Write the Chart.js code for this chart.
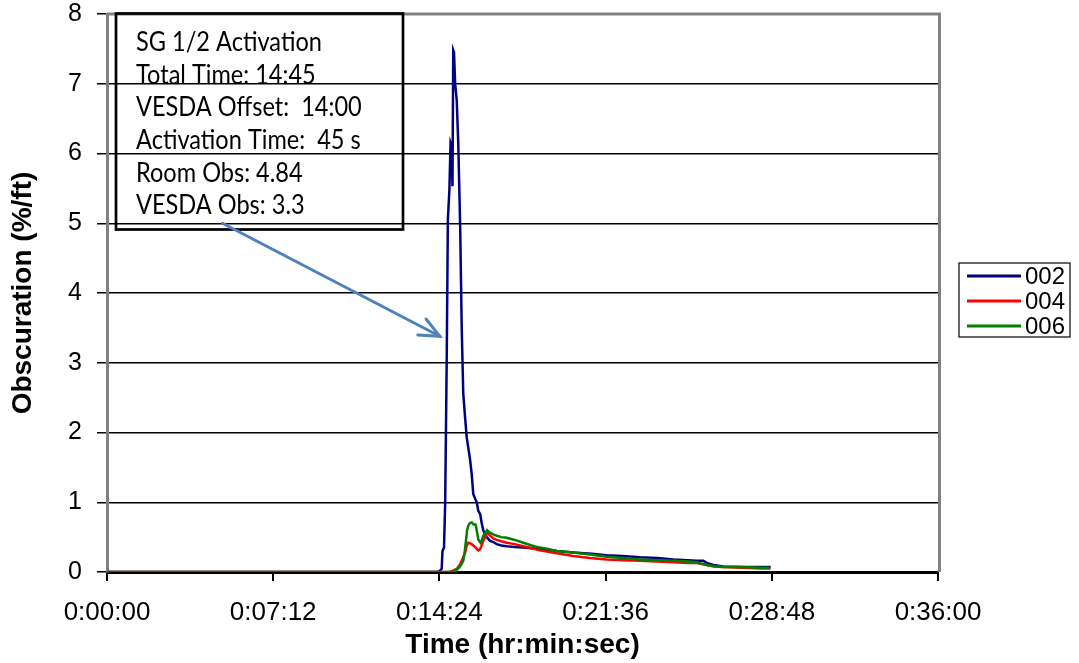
<!DOCTYPE html>
<html><head><meta charset="utf-8">
<script src="https://cdn.jsdelivr.net/npm/chart.js@4/dist/chart.umd.min.js"></script>
<style>html,body{margin:0;padding:0;background:#fff;}#wrap{width:1079px;height:663px;}</style>
</head><body><div id="wrap"><canvas id="c" width="1079" height="663"></canvas></div>
<script>
// ---- data (time in seconds, obscuration in %/ft) ----
const time002 = [0, 860, 866, 870, 872, 876, 879, 883, 886, 890, 893, 896, 898, 900, 902, 905, 909, 913, 918, 922, 926, 931, 935, 940, 944, 948, 952, 957, 961, 965, 970, 974, 978, 983, 987, 995, 1004, 1013, 1025, 1039, 1060, 1082, 1125, 1169, 1212, 1260, 1299, 1340, 1385, 1430, 1472, 1510, 1533, 1550, 1559, 1576, 1602, 1650, 1700, 1725];
const obs002  = [0, 0, 0.02, 0.05, 0.3, 0.35, 0.98, 3.04, 5.05, 5.48, 6.15, 6.1, 5.53, 7.48, 7.45, 7.0, 6.77, 6.15, 4.95, 3.51, 2.56, 2.2, 1.93, 1.75, 1.6, 1.4, 1.12, 1.05, 1.0, 0.88, 0.83, 0.7, 0.6, 0.54, 0.5, 0.45, 0.43, 0.4, 0.38, 0.37, 0.36, 0.35, 0.33, 0.3, 0.28, 0.26, 0.24, 0.23, 0.21, 0.2, 0.18, 0.17, 0.16, 0.16, 0.13, 0.10, 0.08, 0.07, 0.07, 0.07];

const time004 = [0, 890, 900, 910, 918, 925, 931, 935, 939, 944, 948, 952, 957, 961, 966, 970, 974, 978, 983, 988, 996, 1004, 1013, 1025, 1039, 1060, 1082, 1104, 1125, 1169, 1212, 1255, 1299, 1342, 1385, 1430, 1472, 1510, 1533, 1559, 1580, 1602, 1650, 1700, 1725];
const obs004  = [0, 0, 0.02, 0.05, 0.11, 0.2, 0.28, 0.38, 0.42, 0.41, 0.40, 0.38, 0.36, 0.33, 0.31, 0.33, 0.38, 0.45, 0.5, 0.57, 0.52, 0.48, 0.46, 0.44, 0.42, 0.40, 0.37, 0.34, 0.31, 0.27, 0.23, 0.2, 0.18, 0.17, 0.16, 0.15, 0.14, 0.13, 0.13, 0.1, 0.08, 0.07, 0.06, 0.05, 0.05];

const time006 = [0, 898, 905, 913, 920, 926, 930, 933, 936, 939, 943, 948, 953, 958, 961, 965, 968, 971, 974, 978, 983, 988, 996, 1004, 1013, 1025, 1039, 1060, 1082, 1104, 1125, 1147, 1169, 1190, 1212, 1255, 1299, 1342, 1385, 1430, 1472, 1510, 1533, 1545, 1559, 1580, 1602, 1650, 1700, 1722];
const obs006  = [0, 0, 0.02, 0.05, 0.1, 0.16, 0.3, 0.45, 0.6, 0.66, 0.7, 0.71, 0.68, 0.68, 0.6, 0.47, 0.44, 0.42, 0.45, 0.52, 0.56, 0.6, 0.56, 0.54, 0.52, 0.5, 0.49, 0.46, 0.42, 0.38, 0.35, 0.33, 0.3, 0.29, 0.28, 0.25, 0.22, 0.2, 0.18, 0.17, 0.16, 0.15, 0.14, 0.12, 0.1, 0.08, 0.07, 0.07, 0.06, 0.06];

const seriesNames  = ['002', '004', '006'];
const seriesColors = ['#000080', '#ff0000', '#008000'];
const xTickValues  = [0, 432, 864, 1296, 1728, 2160];
const xTickLabels  = ['0:00:00', '0:07:12', '0:14:24', '0:21:36', '0:28:48', '0:36:00'];
const yTickLabels  = ['0', '1', '2', '3', '4', '5', '6', '7', '8'];
const noteLines = ['SG 1/2 Activation', 'Total Time: 14:45', 'VESDA Offset:  14:00', 'Activation Time:  45 s', 'Room Obs: 4.84', 'VESDA Obs: 3.3'];
// arrow (annotation) in data units: from note box to the 002 rise
const arrowFrom = {x: 300, y: 5.0};
const arrowTo   = {x: 865, y: 3.38};

const toPts = (t, v) => t.map((tt, i) => ({x: tt, y: v[i]}));
const seriesData = [toPts(time002, obs002), toPts(time004, obs004), toPts(time006, obs006)];
const drawOrder = [2, 1, 0];

const decor = {
  id: 'decor',
  beforeDraw(chart) {
    const c = chart.ctx; c.save(); c.fillStyle = '#fff'; c.fillRect(0, 0, chart.width, chart.height); c.restore();
  },
  afterDraw(chart) {
    const c = chart.ctx, a = chart.chartArea, xs = chart.scales.x, ys = chart.scales.y;
    c.save();
    // gray plot frame (top and right)
    c.strokeStyle = '#808080'; c.lineWidth = 3;
    c.beginPath(); c.moveTo(a.left, a.top); c.lineTo(a.right + 1.5, a.top); c.lineTo(a.right + 1.5, a.bottom); c.stroke();

    // note box
    const bx = a.left + 9, by = a.top - 0.5, bw = 287, bh = 216;
    c.strokeStyle = '#000'; c.lineWidth = 2.7;
    c.strokeRect(bx, by, bw, bh);
    let fs = 22;
    c.font = fs + 'px Lato';
    const w = c.measureText(noteLines[0]).width;
    fs = fs * 186 / w;
    c.font = fs.toFixed(2) + 'px Lato';
    c.fillStyle = '#000'; c.textBaseline = 'middle'; c.textAlign = 'left';
    noteLines.forEach((s, i) => {
      c.save();
      c.translate(bx + 20, by + 28.5 + i * 32.7);
      c.scale(1, 1.18);
      c.fillText(s, 0, 0);
      c.restore();
    });

    // arrow
    const x0 = xs.getPixelForValue(arrowFrom.x), y0 = ys.getPixelForValue(arrowFrom.y);
    const x1 = xs.getPixelForValue(arrowTo.x), y1 = ys.getPixelForValue(arrowTo.y);
    c.strokeStyle = '#4f81bd'; c.lineWidth = 3; c.lineCap = 'round';
    c.beginPath(); c.moveTo(x0, y0); c.lineTo(x1, y1); c.stroke();
    const ang = Math.atan2(y1 - y0, x1 - x0), L = 22, sp = 0.42;
    c.beginPath();
    c.moveTo(x1 - L * Math.cos(ang - sp), y1 - L * Math.sin(ang - sp)); c.lineTo(x1, y1);
    c.lineTo(x1 - L * Math.cos(ang + sp), y1 - L * Math.sin(ang + sp));
    c.stroke();

    // legend
    const lx = a.right + 21, ly = a.top + 249, lw = 111, lh = 74;
    c.fillStyle = '#fff'; c.fillRect(lx, ly, lw, lh);
    c.strokeStyle = '#000'; c.lineWidth = 1.2; c.lineCap = 'butt';
    c.strokeRect(lx, ly, lw, lh);
    c.font = '24px "Liberation Sans", Arial, sans-serif';
    c.textBaseline = 'middle';
    seriesNames.forEach((n, i) => {
      const yy = ly + 13 + i * 25;
      c.strokeStyle = seriesColors[i]; c.lineWidth = 3;
      c.beginPath(); c.moveTo(lx + 8, yy); c.lineTo(lx + 62, yy); c.stroke();
      c.fillStyle = '#000'; c.fillText(n, lx + 66, yy + 1);
    });
    c.restore();
  }
};

new Chart(document.getElementById('c'), {
  type: 'line',
  data: {
    datasets: seriesNames.map((n, i) => ({
      label: n, data: seriesData[i], borderColor: seriesColors[i], backgroundColor: seriesColors[i],
      borderWidth: 2.5, pointRadius: 0, tension: 0, fill: false, order: drawOrder[i]
    }))
  },
  options: {
    responsive: false, animation: false, devicePixelRatio: 1,
    layout: {padding: {top: 14, right: 141, bottom: 0, left: 0}},
    plugins: {legend: {display: false}, tooltip: {enabled: false}},
    scales: {
      x: {
        type: 'linear', min: 0, max: 2160,
        afterBuildTicks: s => { s.ticks = xTickValues.map(v => ({value: v})); },
        afterFit: s => { s.height = 91; s.paddingLeft = 0; s.paddingRight = 0; },
        ticks: {
          autoSkip: false, maxRotation: 0, padding: 16, color: '#000',
          font: {family: '"Liberation Sans", Arial, sans-serif', size: 26},
          callback: v => xTickLabels[xTickValues.indexOf(v)]
        },
        grid: {drawOnChartArea: false, tickLength: 9, color: '#000', lineWidth: 2},
        border: {color: '#000', width: 3},
        title: {display: true, text: 'Time (hr:min:sec)', color: '#000',
          font: {family: '"Liberation Sans", Arial, sans-serif', size: 28, weight: 'bold'},
          padding: {top: 0, bottom: 1}}
      },
      y: {
        min: 0, max: 8,
        afterFit: s => { s.width = 107; s.paddingTop = 0; s.paddingBottom = 0; },
        ticks: {
          stepSize: 1, padding: 15, color: '#000',
          font: {family: '"Liberation Sans", Arial, sans-serif', size: 25},
          callback: v => yTickLabels[v]
        },
        grid: {color: '#000', lineWidth: 1.5, tickLength: 10, tickColor: '#000'},
        border: {color: '#808080', width: 3},
        title: {display: true, text: 'Obscuration (%/ft)', color: '#000',
          font: {family: '"Liberation Sans", Arial, sans-serif', size: 28, weight: 'bold'},
          padding: {top: 6, bottom: 0}}
      }
    }
  },
  plugins: [decor]
});
</script></body></html>
